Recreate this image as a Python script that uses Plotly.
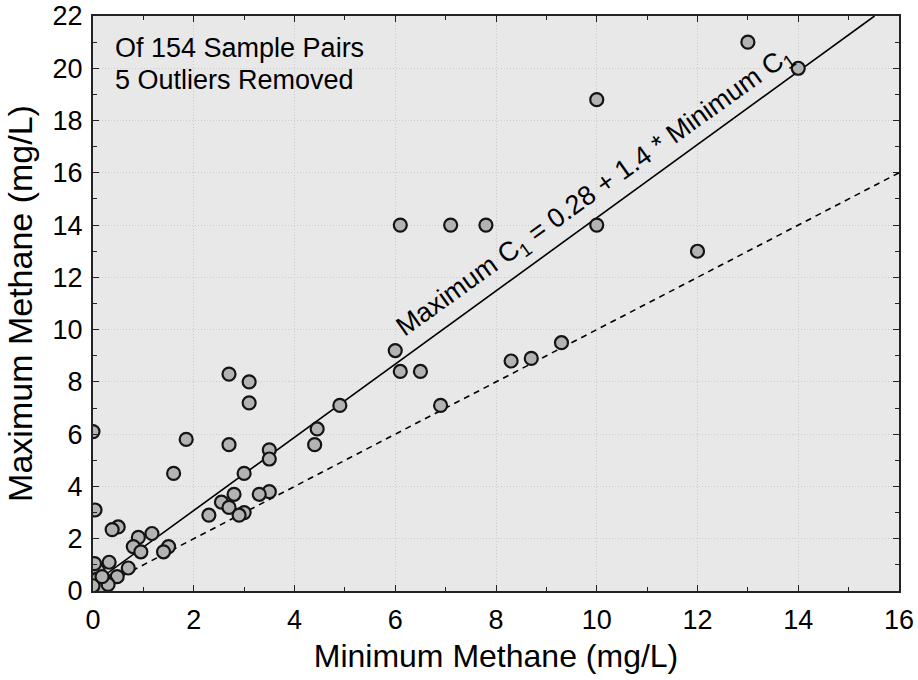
import plotly.graph_objects as go

# Sample pairs: minimum vs maximum methane (mg/L)
min_methane = [13.0, 14.0, 10.0, 6.1, 7.1, 7.8, 10.0, 12.0,
               6.0, 6.1, 6.5, 8.3, 8.7, 9.3, 6.9, 4.9,
               4.4, 4.45, 3.1, 2.7, 3.1, 2.7, 1.85, 1.6, 3.0,
               3.5, 3.5, 3.5, 3.3, 2.8, 2.55, 2.7, 3.0, 2.9, 2.3,
               1.17, 0.9, 0.8, 0.95, 1.5, 1.4, 0.5, 0.38,
               0.04, 0.0, 0.48, 0.32, 0.7, 0.1, 0.03,
               0.05, 0.12, 0.2, 0.25, 0.08, 0.15, 0.3, 0.0, 0.18]
max_methane = [21.0, 20.0, 18.8, 14.0, 14.0, 14.0, 14.0, 13.0,
               9.2, 8.4, 8.4, 8.8, 8.9, 9.5, 7.1, 7.1,
               5.6, 6.2, 8.0, 8.3, 7.2, 5.6, 5.8, 4.5, 4.5,
               5.4, 5.05, 3.8, 3.7, 3.7, 3.4, 3.2, 3.0, 2.9, 2.9,
               2.2, 2.05, 1.7, 1.5, 1.7, 1.5, 2.45, 2.35,
               3.1, 6.1, 0.55, 1.1, 0.88, 0.78, 1.05,
               0.1, 0.3, 0.15, 0.4, 0.45, 0.05, 0.25, 0.2, 0.55]

# Regression: Maximum = 0.28 + 1.4 * Minimum
intercept = 0.28
slope = 1.4
fit_x = [0.0, (22.0 - intercept) / slope]
fit_y = [intercept + slope * v for v in fit_x]

# 1:1 line
one_x = [0.0, 16.0]
one_y = [0.0, 16.0]

x_ticks = [0, 2, 4, 6, 8, 10, 12, 14, 16]
y_ticks = [0, 2, 4, 6, 8, 10, 12, 14, 16, 18, 20, 22]

note_lines = ["Of 154 Sample Pairs", "5 Outliers Removed"]

FONT = "Liberation Sans, Arial, sans-serif"

fig = go.Figure()
fig.add_trace(go.Scatter(x=one_x, y=one_y, mode="lines",
                         line=dict(color="black", width=1.6, dash="6px,5px"),
                         showlegend=False, hoverinfo="skip"))
fig.add_trace(go.Scatter(x=fit_x, y=fit_y, mode="lines",
                         line=dict(color="black", width=1.6),
                         showlegend=False, hoverinfo="skip"))
fig.add_trace(go.Scatter(x=min_methane, y=max_methane, mode="markers",
                         marker=dict(size=13, color="#b3b3b3",
                                     line=dict(color="#141414", width=2.2)),
                         showlegend=False))

axis_common = dict(
    showline=True, linecolor="#222222", linewidth=2, mirror="ticks",
    ticks="inside", ticklen=6, tickwidth=1.2, tickcolor="#222222",
    showgrid=True, gridcolor="#cbcbcb", gridwidth=1, griddash="1px,2px",
    zeroline=False, automargin=False, ticklabeloverflow="allow",
    minor=dict(ticks="inside", ticklen=4, tickcolor="#222222", dtick=1,
               showgrid=False),
    tickfont=dict(family=FONT, size=27, color="black"),
)

fig.update_xaxes(range=[0, 16], tickvals=x_ticks,
                 ticktext=[str(v) for v in x_ticks],
                 ticklabelstandoff=4,
                 title=dict(text="Minimum Methane (mg/L)",
                            font=dict(family=FONT, size=32, color="black"),
                            standoff=10),
                 **axis_common)
fig.update_yaxes(range=[0, 22], tickvals=y_ticks,
                 ticktext=[str(v) for v in y_ticks],
                 ticklabelstandoff=3,
                 title=dict(text="Maximum Methane (mg/L)",
                            font=dict(family=FONT, size=34, color="black"),
                            standoff=10),
                 **axis_common)

for txt, yp in zip(note_lines, [0.944, 0.889]):
    fig.add_annotation(x=0.0248, y=yp, xref="paper", yref="paper",
                       xanchor="left", yanchor="middle", align="left",
                       text=txt, showarrow=False,
                       font=dict(family=FONT, size=27, color="black"))

fig.add_annotation(x=9.98, y=15.25, xref="x", yref="y",
                   text="Maximum C<sub>1</sub> = 0.28 + 1.4 * Minimum C<sub>1</sub>",
                   textangle=-35.5, showarrow=False,
                   xanchor="center", yanchor="middle",
                   font=dict(family=FONT, size=27, color="black"))

fig.update_layout(
    width=918, height=680,
    margin=dict(l=93, r=19, t=16, b=89),
    plot_bgcolor="#e8e8e8", paper_bgcolor="white",
    font=dict(family=FONT, color="black"),
)

# remove the default page margin so the figure fills the window exactly
fig.write_html("out.html",
               config={"displayModeBar": False},
               post_script="document.body.style.margin='0';"
                           "document.body.style.overflow='hidden';")
